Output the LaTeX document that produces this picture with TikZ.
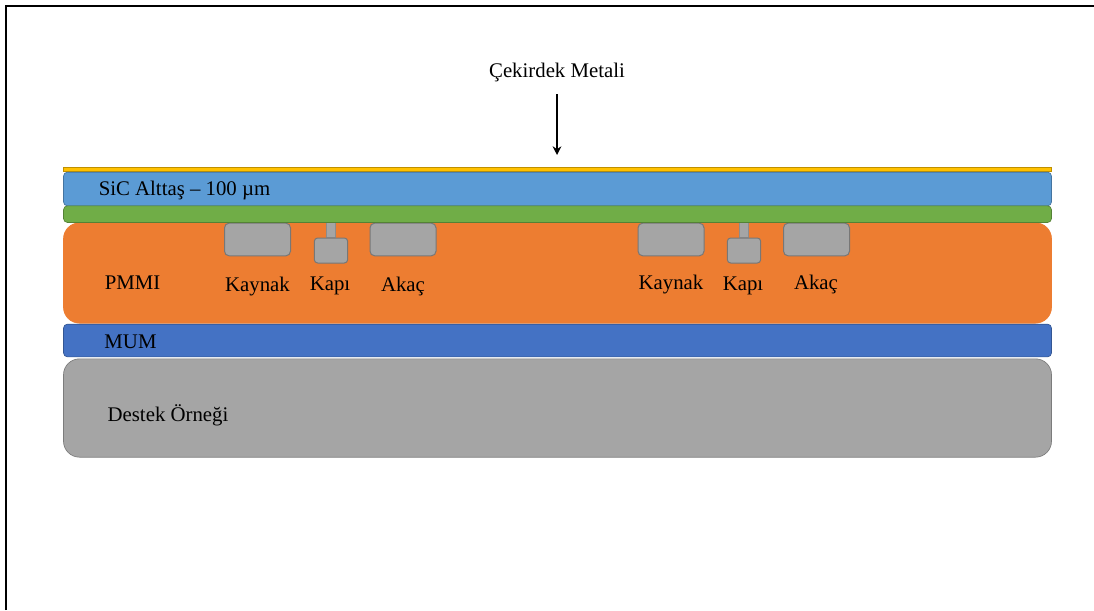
\documentclass[tikz,border=0pt]{standalone}
\usepackage{fontspec}
\setmainfont{Liberation Serif}
\usetikzlibrary{arrows.meta,positioning}
\definecolor{lygold}{HTML}{FFC000}
\definecolor{lysic}{HTML}{5B9BD5}
\definecolor{lygreen}{HTML}{70AD47}
\definecolor{lyorange}{HTML}{ED7D31}
\definecolor{lymum}{HTML}{4472C4}
\definecolor{lygray}{HTML}{A5A5A5}
\begin{document}
\begin{tikzpicture}[
  x=0.75pt, y=-0.75pt,
  layer/.style={draw, rounded corners=3pt, minimum width=741pt, inner sep=0pt, outer sep=0pt, line width=0.5pt},
  contact/.style={draw=lygray!72!black, fill=lygray, rounded corners=3.5pt, inner sep=0pt, outer sep=0pt,
                  minimum width=49.5pt, minimum height=24.5pt, line width=0.75pt},
  gatebox/.style={contact, minimum width=25pt, minimum height=18.75pt, rounded corners=2.5pt},
  stem/.style={draw=lygray!85!black, fill=lygray, inner sep=0pt, outer sep=0pt, minimum width=6.5pt, minimum height=12.5pt, line width=0.5pt},
  lbl/.style={font=\fontsize{15.6}{18}\selectfont, anchor=base, inner sep=0pt, text=black},
  ar/.style={-{Stealth[length=6.5pt,width=6.5pt]}, black, line width=1.5pt},
]
\useasboundingbox (0,0) rectangle (1094,610);
\draw[black, line width=1.5pt] (6,610) -- (6,6) -- (1094,6);

\node[layer, draw=lygold!75!black, fill=lygold, rounded corners=0pt, minimum height=2.75pt, anchor=north] (gold) at (557.5,167.5) {};
\node[layer, draw=lysic!75!black, fill=lysic, minimum height=25.25pt, below=0.75pt of gold] (sic) {};
\node[layer, draw=lyorange, fill=lyorange, rounded corners=12pt, minimum height=75.25pt, below=12.75pt of sic] (pmmi) {};
\node[layer, draw=lymum!75!black, fill=lymum, minimum height=24.5pt, below=0.75pt of pmmi] (mum) {};
\node[layer, draw=lygray!75!black, fill=lygray, rounded corners=12pt, minimum height=73.75pt, below=1.5pt of mum] (destek) {};

\node[stem] (gs1) at (331,229) {};
\node[stem] (gs2) at (743.5,229) {};
\node[contact] (s1) at (257.5,239.5) {};
\node[gatebox] (g1) at (331,250.5) {};
\node[contact] (d1) at (403,239.5) {};
\node[contact] (s2) at (671,239.5) {};
\node[gatebox] (g2) at (744,250.5) {};
\node[contact] (d2) at (816.5,239.5) {};

\node[layer, draw=lygreen!75!black, fill=lygreen, minimum height=12.5pt, below=0pt of sic] (green) {};

\node[lbl] (metal) at (557,77.5) {Çekirdek Metali};
\coordinate (arstart) at (557,94);
\coordinate (arend) at (557,155);
\draw[ar] (arstart) -- (arend);

\node[lbl] (siclbl) at (184.5,195) {SiC Alttaş – 100 µm};
\node[lbl] (pmmilbl) at (132.5,289) {PMMI};
\node[lbl] (mumlbl) at (130.5,348) {MUM};
\node[lbl] (desteklbl) at (168,421) {Destek Örneği};

\node[lbl] (k1) at (257.5,291) {Kaynak};
\node[lbl] (kp1) at (330,290) {Kapı};
\node[lbl] (a1) at (403,291.5) {Akaç};
\node[lbl] (k2) at (671,289) {Kaynak};
\node[lbl] (kp2) at (743,290) {Kapı};
\node[lbl] (a2) at (816,289) {Akaç};
\end{tikzpicture}
\end{document}
